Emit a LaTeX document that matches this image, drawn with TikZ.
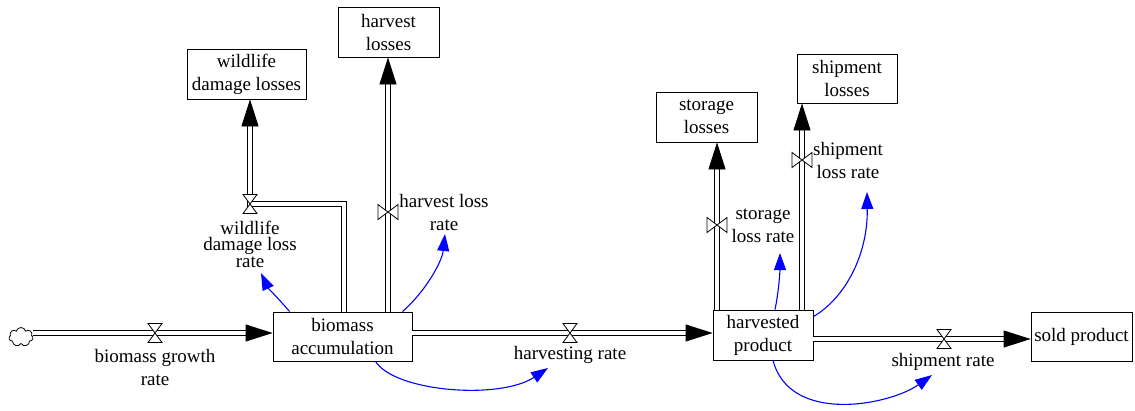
\documentclass[tikz,border=0pt]{standalone}
\usepackage{fontspec}
\setmainfont{Liberation Serif}
\usetikzlibrary{arrows.meta,shapes.symbols,calc}
\begin{document}
\begin{tikzpicture}[x=1pt,y=-1pt,
 every node/.style={font=\fontsize{19}{23}\selectfont, inner sep=0pt},
 box/.style={draw, line width=0.8pt, align=center, minimum height=49pt},
 lbl/.style={align=center},
 pipe/.style={draw=black, line width=0.8pt, double=white, double distance=3.6pt},
 pipetip/.style={pipe, -{Triangle[length=27pt,width=17pt]}},
 link/.style={draw=blue, line width=1.1pt, -{Triangle[length=17pt,width=12pt]}},
 hg/.pic={\draw[fill=white, line width=0.8pt] (-7,-9.5) -- (7,-9.5) -- (-7,9.5) -- (7,9.5) -- cycle;},
 bt/.pic={\draw[fill=white, line width=0.8pt] (-10,-7.5) -- (-10,7.5) -- (10,-7.5) -- (10,7.5) -- cycle;}
]
\useasboundingbox (0,0) rectangle (1135,410);
% stocks
\node[box, minimum width=139pt] (bio) at (342.5,336.5) {biomass\\accumulation};
\node[box, minimum width=100pt, minimum height=50pt] (hp) at (763,335) {harvested\\product};
\node[box, minimum width=101pt] (sp) at (1081.5,336.5) {sold product};
\node[box, minimum width=119pt, minimum height=50pt] (wdl) at (246.5,74) {wildlife\\damage losses};
\node[box, minimum width=101pt, minimum height=50pt] (hl) at (388.5,32) {harvest\\losses};
\node[box, minimum width=101pt, minimum height=50pt] (sl) at (706.5,117) {storage\\losses};
\node[box, minimum width=100pt] (shl) at (847,78.5) {shipment\\losses};
\node[cloud, draw, cloud puffs=7, cloud ignores aspect, minimum width=24pt, minimum height=19pt, line width=0.8pt] (src) at (21,337) {};
% valve points
\coordinate (gv) at (155,333);
\coordinate (hv) at (570,333);
\coordinate (sv) at (944,339);
\coordinate (wv) at (250,204);
\coordinate (hlv) at (388,212);
\coordinate (slv) at (717,225);
\coordinate (shv) at (802,160);
\coordinate (wc) at (344,204);
% pipes
\draw[pipetip] (src.east |- gv) -- (bio.west |- gv);
\draw[pipetip] (bio.east |- hv) -- (hp.west |- hv);
\draw[pipetip] (hp.east |- sv) -- (sp.west |- sv);
\draw[pipetip] (bio.north -| wc) -- (wc) -- (wv) -- (wdl.south -| wv);
\draw[pipetip] (bio.north -| hlv) -- (hl.south -| hlv);
\draw[pipetip] (hp.north -| slv) -- (sl.south -| slv);
\draw[pipetip] (hp.north -| shv) -- (shl.south -| shv);
% valves
\pic at (gv) {hg};
\pic at (hv) {hg};
\pic at (sv) {hg};
\pic at (wv) {hg};
\pic at (hlv) {bt};
\pic at (slv) {bt};
\pic at (shv) {bt};
% labels
\node[lbl] (gl) at (155,367) {biomass growth\\rate};
\node[lbl] (hrl) at (570,355) {harvesting rate};
\node[lbl] (srl) at (943,362) {shipment rate};
\node[lbl, font=\fontsize{19}{16.5}\selectfont] (wl) at (250,244) {wildlife\\damage loss\\rate};
\node[lbl] (hll) at (444,212) {harvest loss\\rate};
\node[lbl] (sll) at (763,226) {storage\\loss rate};
\node[lbl] (shll) at (848,160) {shipment\\loss rate};
% link tips
\coordinate (t1) at (261,273);
\coordinate (t2) at (445,234);
\coordinate (t3) at (548,368);
\coordinate (t4) at (780,253);
\coordinate (t5) at (867,192);
\coordinate (t6) at (932,375);
% links
\draw[link] ($(bio.north west)+(17,0)$) .. controls (278,298) and (268,288) .. (t1);
\draw[link] ($(bio.north east)+(-10,0)$) .. controls (425,292) and (442,262) .. (t2);
\draw[link] ($(bio.south)+(33,0)$) .. controls (395,392) and (500,400) .. (t3);
\draw[link] ($(hp.north)+(12,0)$) .. controls (779,290) and (780,270) .. (t4);
\draw[link] ($(hp.north east)+(0,7)$) .. controls (845,298) and (868,255) .. (t5);
\draw[link] ($(hp.south)+(10,0)$) .. controls (790,425) and (890,405) .. (t6);
\end{tikzpicture}
\end{document}
